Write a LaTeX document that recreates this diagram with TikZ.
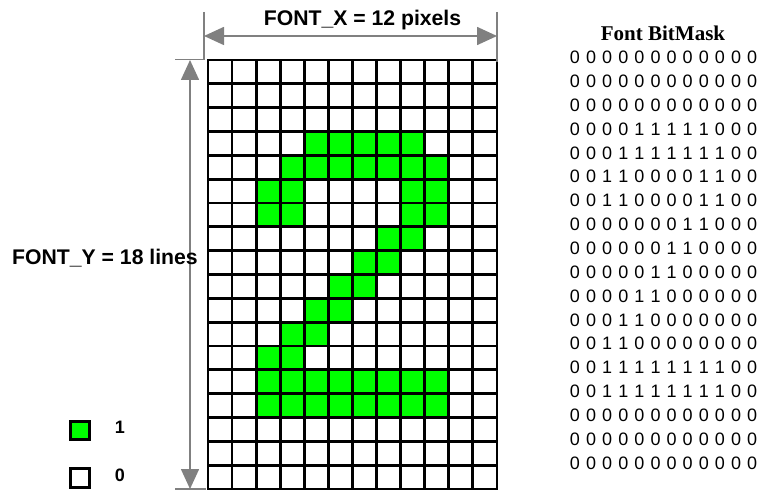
\documentclass[tikz,border=0pt]{standalone}
\usepackage{fontspec}
\usepackage{xcolor}
\usetikzlibrary{arrows.meta,positioning}
\newfontfamily\arialfont{Liberation Sans}
\newfontfamily\timesfont{Liberation Serif}
\definecolor{bitgreen}{RGB}{0,255,0}
\definecolor{dimgray}{RGB}{128,128,128}
\newcommand\digitrows{%
  {0,0,0,0,0,0,0,0,0,0,0,0},{0,0,0,0,0,0,0,0,0,0,0,0},{0,0,0,0,0,0,0,0,0,0,0,0},%
  {0,0,0,0,1,1,1,1,1,0,0,0},{0,0,0,1,1,1,1,1,1,1,0,0},{0,0,1,1,0,0,0,0,1,1,0,0},%
  {0,0,1,1,0,0,0,0,1,1,0,0},{0,0,0,0,0,0,0,1,1,0,0,0},{0,0,0,0,0,0,1,1,0,0,0,0},%
  {0,0,0,0,0,1,1,0,0,0,0,0},{0,0,0,0,1,1,0,0,0,0,0,0},{0,0,0,1,1,0,0,0,0,0,0,0},%
  {0,0,1,1,0,0,0,0,0,0,0,0},{0,0,1,1,1,1,1,1,1,1,0,0},{0,0,1,1,1,1,1,1,1,1,0,0},%
  {0,0,0,0,0,0,0,0,0,0,0,0},{0,0,0,0,0,0,0,0,0,0,0,0},{0,0,0,0,0,0,0,0,0,0,0,0}}

\begin{document}
\begin{tikzpicture}[
    x=1pt, y=-1pt,
    gridline/.style={line width=2.8pt, black, line cap=rect},
    bitcell/.style={fill=bitgreen},
    maskbit/.style={font=\arialfont\fontsize{18}{18}\selectfont, inner sep=0pt},
    dimline/.style={dimgray, line width=1.6pt},
    dimarr/.style={dimline, {Triangle[length=20pt,width=18pt]}-{Triangle[length=20pt,width=18pt]}},
    dimlabel/.style={font=\arialfont\bfseries\fontsize{21.2}{24}\selectfont, inner sep=0pt},
    keybox/.style={draw, line width=3pt, minimum size=18.5pt, inner sep=0pt},
    keylabel/.style={font=\arialfont\bfseries\fontsize{18}{20}\selectfont, inner sep=0pt}
  ]
  \useasboundingbox (0,0) rectangle (761,492);

  %% Green pixels and the bit mask
  \foreach \bits [count=\r from 0] in \digitrows {
    \foreach \b [count=\c from 0] in \bits {
      \ifnum\b=1 \fill[bitcell] (208+\c*24.08, 60+\r*23.83) rectangle ++(24.08, 23.83); \fi
      \node[maskbit] (bit-\r-\c) at (575+\c*16.1, 57.5+\r*23.85) {\b};
    }
  }
  \node[font=\timesfont\bfseries\fontsize{21}{24}\selectfont, anchor=base, inner sep=0pt]
    (masktitle) at (663,41) {Font BitMask};

  %% Pixel grid
  \foreach \c in {0,...,12}
    \draw[gridline] (208+\c*24.08, 60) -- ++(0, 429);
  \foreach \r in {0,...,18}
    \draw[gridline] (208, 60+\r*23.83) -- ++(289, 0);

  %% Width dimension
  \coordinate (xextL) at (204,12);
  \coordinate (xextLb) at (204,59.5);
  \coordinate (yextT) at (175,59.5);
  \coordinate (xextR) at (497,12);
  \coordinate (xextRb) at (497,62);
  \coordinate (yextB) at (175,489);
  \coordinate (yextBr) at (206,489);
  \draw[dimline] (xextL) -- (xextLb) -- (yextT);
  \draw[dimline] (xextR) -- (xextRb);
  \draw[dimline] (yextB) -- (yextBr);
  \coordinate (xdimL) at (204,36);
  \coordinate (xdimR) at (497,36);
  \draw[dimarr] (xdimL) -- (xdimR);
  \node[dimlabel, anchor=base] (fontx) at (362.5,26) {FONT\_X = 12 pixels};

  %% Height dimension
  \coordinate (ydimT) at (190,60);
  \coordinate (ydimB) at (190,489);
  \draw[dimarr] (ydimT) -- (ydimB);
  \node[dimlabel, anchor=base] (fonty) at (105,265) {FONT\_Y = 18 lines};

  %% Key
  \node[keybox, fill=bitgreen] (keyone) at (80,430.5) {};
  \node[keybox, fill=white] (keyzero) at (80,478) {};
  \node[keylabel, right=24pt of keyone, yshift=3pt] (keyonetext) {1};
  \node[keylabel, right=24pt of keyzero, yshift=3pt] (keyzerotext) {0};

\end{tikzpicture}
\end{document}
